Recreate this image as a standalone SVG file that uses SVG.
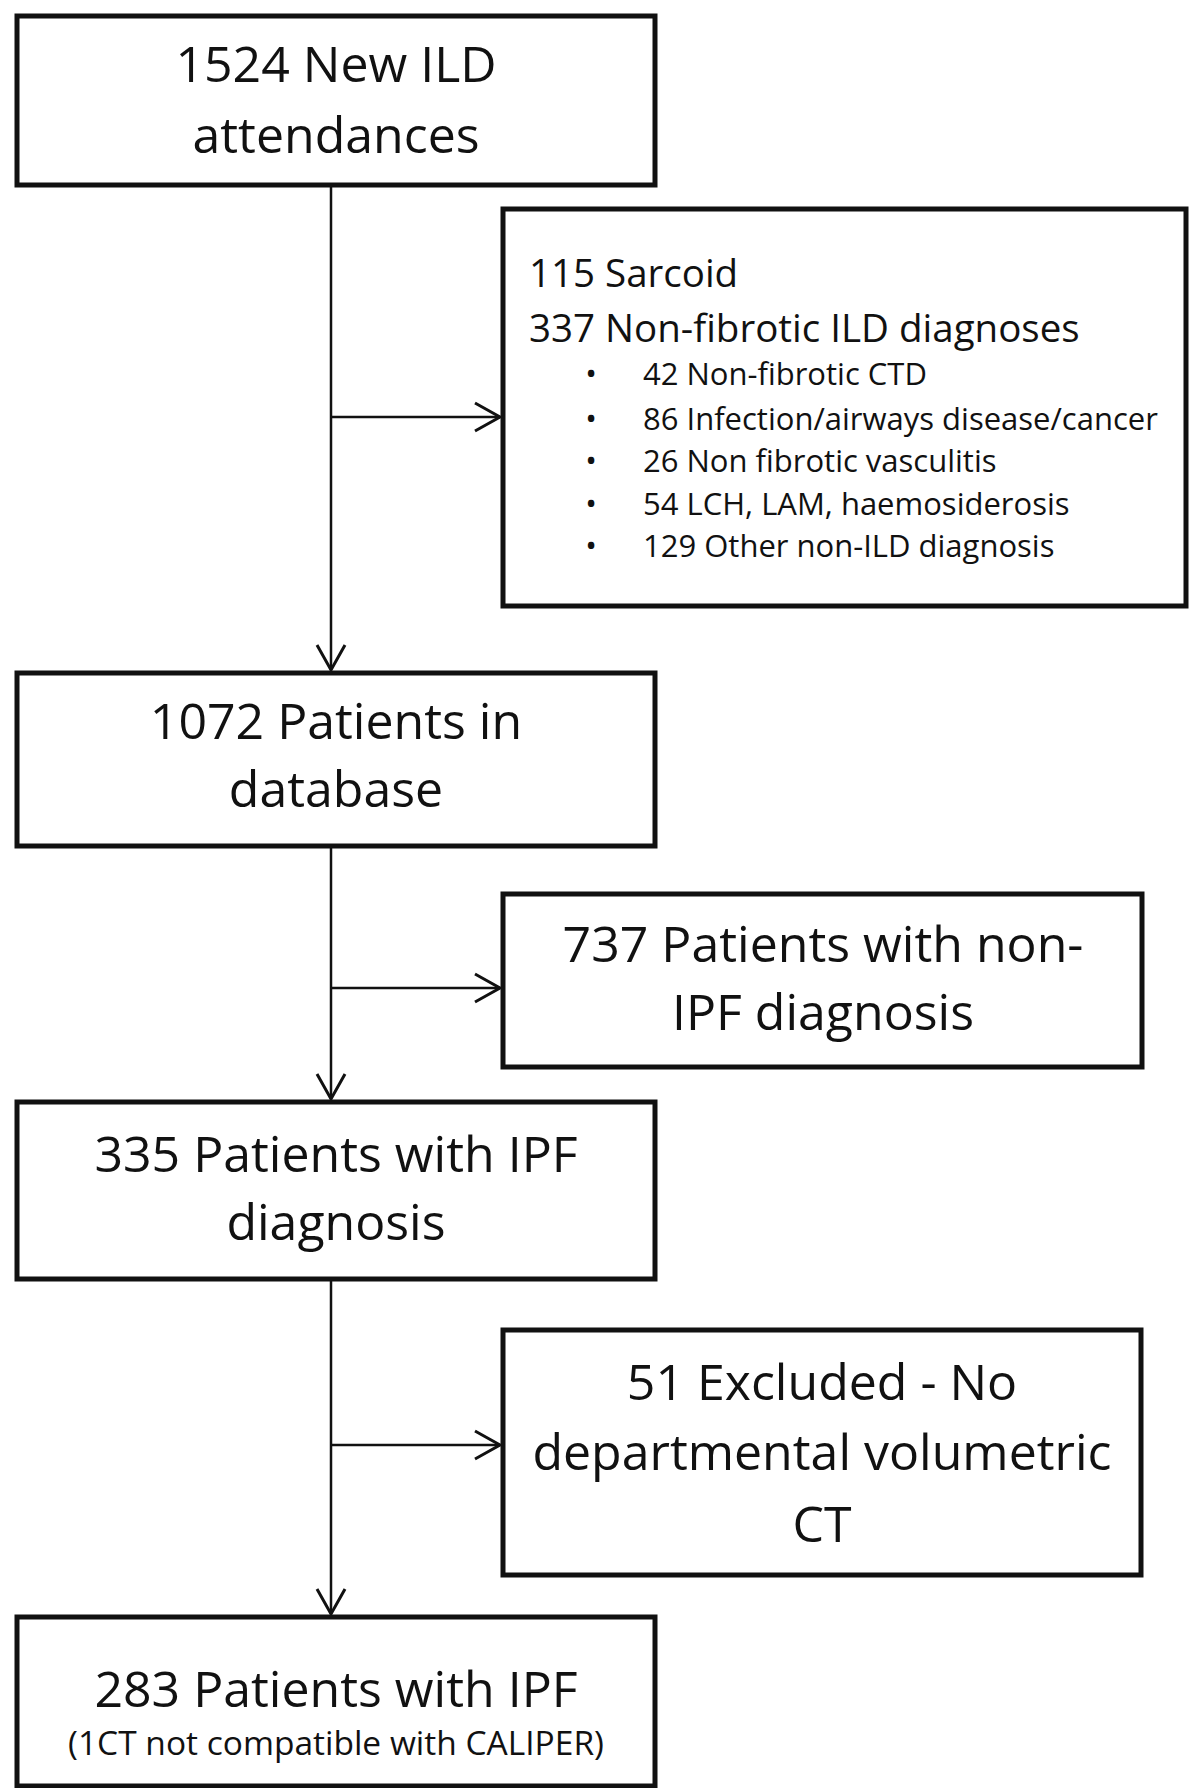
<svg xmlns="http://www.w3.org/2000/svg" width="1190" height="1788" viewBox="0 0 1190 1788">
<defs>
<style>
.box{fill:#fff;stroke:#111;stroke-width:5}
.t{font-family:"Open Sans","Liberation Sans",sans-serif;fill:#111}
.big{font-size:50px;text-anchor:middle}
.mid{font-size:38.5px}
.sm{font-size:31px}
.sub{font-size:33.5px;text-anchor:middle}
.c{fill:none;stroke:#111;stroke-width:2.5}
</style>
<marker id="arr" markerUnits="userSpaceOnUse" markerWidth="32" markerHeight="32" refX="28" refY="16" orient="auto" viewBox="0 0 32 32">
<path d="M3,2 L28,16 L3,30" fill="none" stroke="#111" stroke-width="3"/>
</marker>
</defs>
<rect width="1190" height="1788" fill="#fff"/>
<g id="connectors">
<line class="c" x1="331" y1="186" x2="331" y2="670" marker-end="url(#arr)"/>
<line class="c" x1="331" y1="417" x2="500" y2="417" marker-end="url(#arr)"/>
<line class="c" x1="331" y1="848" x2="331" y2="1099" marker-end="url(#arr)"/>
<line class="c" x1="331" y1="988" x2="500" y2="988" marker-end="url(#arr)"/>
<line class="c" x1="331" y1="1281" x2="331" y2="1614" marker-end="url(#arr)"/>
<line class="c" x1="331" y1="1445" x2="500" y2="1445" marker-end="url(#arr)"/>
</g>
<g id="n1">
<rect class="box" x="17" y="16" width="638" height="169"/>
<text class="t big" x="336" y="82">1524 New ILD</text>
<text class="t big" x="336" y="153">attendances</text>
</g>
<g id="n2">
<rect class="box" x="503" y="209" width="683" height="397"/>
<text class="t mid" x="529" y="287">115 Sarcoid</text>
<text class="t mid" x="529" y="342">337 Non-fibrotic ILD diagnoses</text>
<g class="t sm">
<text x="591" y="385" text-anchor="middle">•</text><text x="643" y="385">42 Non-fibrotic CTD</text>
<text x="591" y="430" text-anchor="middle">•</text><text x="643" y="430">86 Infection/airways disease/cancer</text>
<text x="591" y="472" text-anchor="middle">•</text><text x="643" y="472">26 Non fibrotic vasculitis</text>
<text x="591" y="515" text-anchor="middle">•</text><text x="643" y="515">54 LCH, LAM, haemosiderosis</text>
<text x="591" y="557" text-anchor="middle">•</text><text x="643" y="557">129 Other non-ILD diagnosis</text>
</g>
</g>
<g id="n3">
<rect class="box" x="17" y="673" width="638" height="173"/>
<text class="t big" x="336" y="739">1072 Patients in</text>
<text class="t big" x="336" y="807">database</text>
</g>
<g id="n4">
<rect class="box" x="503" y="894" width="639" height="173"/>
<text class="t big" x="823" y="962">737 Patients with non-</text>
<text class="t big" x="823" y="1030">IPF diagnosis</text>
</g>
<g id="n5">
<rect class="box" x="17" y="1102" width="638" height="177"/>
<text class="t big" x="336" y="1172">335 Patients with IPF</text>
<text class="t big" x="336" y="1240">diagnosis</text>
</g>
<g id="n6">
<rect class="box" x="503" y="1330" width="638" height="245"/>
<text class="t big" x="822" y="1400">51 Excluded - No</text>
<text class="t big" x="822" y="1470">departmental volumetric</text>
<text class="t big" x="822" y="1542">CT</text>
</g>
<g id="n7">
<rect class="box" x="17" y="1617" width="638" height="169"/>
<text class="t big" x="336" y="1707">283 Patients with IPF</text>
<text class="t sub" x="336" y="1755">(1CT not compatible with CALIPER)</text>
</g>
</svg>
